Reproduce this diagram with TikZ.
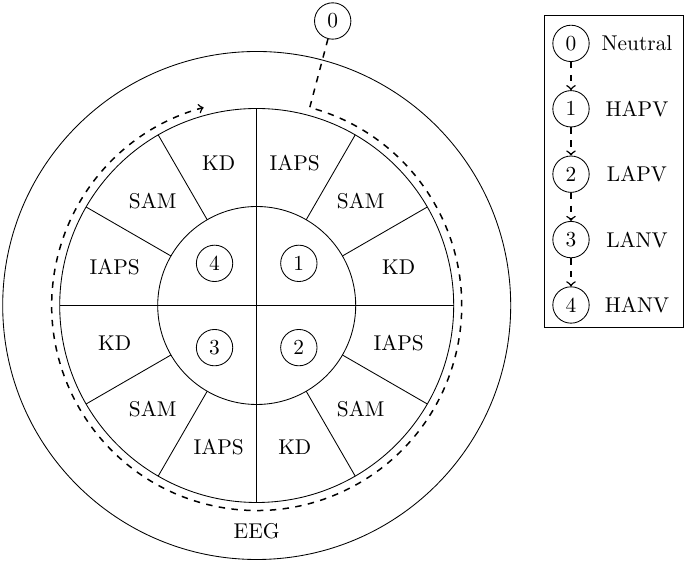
\documentclass[tikz,border=0pt]{standalone}
\begin{document}
\begin{tikzpicture}[x=0.4675pt,y=0.4675pt,
  numnode/.style={circle,draw,inner sep=0pt,minimum size=17pt},
  lbl/.style={inner sep=0pt},
  flow/.style={dashed,->,line width=0.7pt}]
\useasboundingbox (0,0) rectangle (685,562);
\coordinate (C) at (256.7,256.5);
% circles
\draw (C) circle[radius=254];
\draw (C) circle[radius=197];
\draw (C) circle[radius=99];
% cross lines
\draw ([shift={(0:197)}]C) -- ([shift={(180:197)}]C);
\draw ([shift={(90:197)}]C) -- ([shift={(270:197)}]C);
% sector lines
\foreach \a in {30,60,120,150,210,240,300,330}
  \draw ([shift={(\a:99)}]C) -- ([shift={(\a:197)}]C);
% sector labels
\foreach \a/\t [count=\i] in {15/KD,45/SAM,75/IAPS,105/KD,135/SAM,165/IAPS,195/KD,225/SAM,255/IAPS,285/KD,315/SAM,345/IAPS}
  \node[lbl] (s\i) at ([shift={(\a:147)}]C) {\t};
% inner numbers
\node[numnode] (q1) at ([shift={(45:59.6)}]C) {1};
\node[numnode] (q2) at ([shift={(315:59.6)}]C) {2};
\node[numnode] (q3) at ([shift={(225:59.6)}]C) {3};
\node[numnode] (q4) at ([shift={(135:59.6)}]C) {4};
% EEG
\node[lbl] (eeg) at ([shift={(0,-226)}]C) {EEG};
% start node and dashed path
\node[numnode] (n0) at (332.7,541) {0};
\coordinate (ds) at ([shift={(75:205)}]C);
\draw[flow] (n0) -- (ds) arc[start angle=75,end angle=-255,radius=205];
% legend
\node[draw,minimum width=139*0.4675pt,minimum height=312*0.4675pt,inner sep=0pt] (box) at (613.5,391) {};
\foreach \i/\t in {0/Neutral,1/HAPV,2/LAPV,3/LANV,4/HANV}{
  \node[numnode] (l\i) at (571,518.6-65.4*\i) {\i};
  \node[lbl] (t\i) at (637,518.6-65.4*\i) {\t};
}
\foreach \i/\j in {0/1,1/2,2/3,3/4}
  \draw[flow] (l\i) -- (l\j);
\end{tikzpicture}
\end{document}
